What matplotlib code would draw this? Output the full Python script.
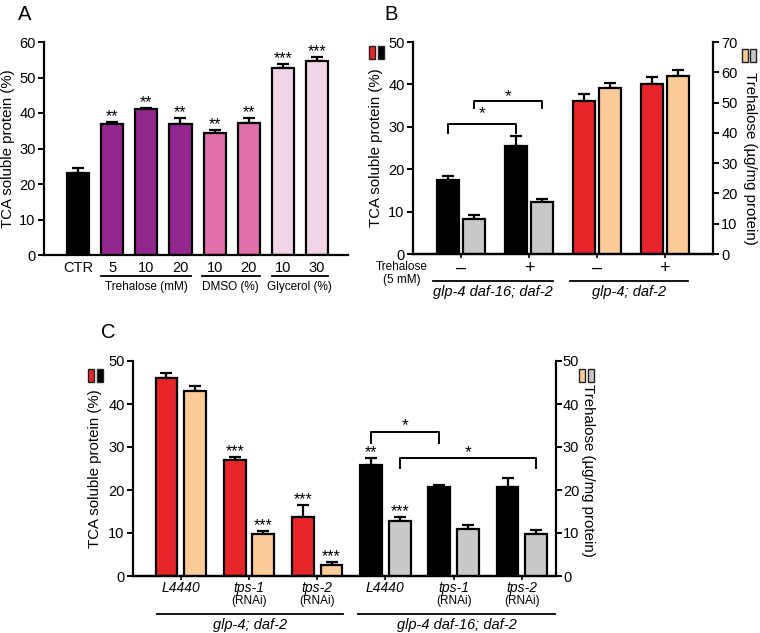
import numpy as np
import matplotlib
matplotlib.use('Agg')
import matplotlib.pyplot as plt
from matplotlib.patches import Rectangle

plt.rcParams['font.family'] = ['Liberation Sans', 'DejaVu Sans']
plt.rcParams['axes.linewidth'] = 1.6

# ---- data ----
# Panel A
a_labels = ['CTR', '5', '10', '20', '10', '20', '10', '30']
a_vals = [23.0, 37.0, 41.0, 37.0, 34.3, 37.3, 52.6, 54.6]
a_err = [1.5, 0.6, 0.5, 1.7, 0.9, 1.4, 1.2, 1.2]
a_stars = ['', '**', '**', '**', '**', '**', '***', '***']
a_colors = ['#000000', '#93278F', '#93278F', '#93278F', '#DF70A9', '#DF70A9', '#F2D4E7', '#F2D4E7']
a_groups = ['Trehalose (mM)', 'DMSO (%)', 'Glycerol (%)']

# Panel B
b_ticks = ['\u2013', '+', '\u2013', '+']
b_tca = [17.5, 25.5, 36.0, 40.2]
b_tca_err = [1.0, 2.4, 1.8, 1.6]
b_tre = [11.7, 17.2, 54.9, 58.8]
b_tre_err = [1.2, 0.8, 1.5, 1.8]
b_tca_colors = ['#000000', '#000000', '#E8252A', '#E8252A']
b_tre_colors = ['#C8C8C8', '#C8C8C8', '#FCCB98', '#FCCB98']
b_groups = ['glp-4 daf-16; daf-2', 'glp-4; daf-2']

# Panel C
c_ticks = ['L4440', 'tps-1', 'tps-2', 'L4440', 'tps-1', 'tps-2']
c_sub = ['', '(RNAi)', '(RNAi)', '', '(RNAi)', '(RNAi)']
c_tca = [46.0, 27.0, 13.7, 25.8, 20.6, 20.6]
c_tca_err = [1.3, 0.7, 2.8, 1.7, 0.6, 2.1]
c_tre = [43.0, 9.7, 2.5, 12.8, 10.9, 9.7]
c_tre_err = [1.2, 0.7, 0.7, 1.0, 0.9, 0.9]
c_tca_stars = ['', '***', '***', '**', '', '']
c_tre_stars = ['', '***', '***', '***', '', '']
c_tca_colors = ['#E8252A'] * 3 + ['#000000'] * 3
c_tre_colors = ['#FCCB98'] * 3 + ['#C8C8C8'] * 3
c_groups = ['glp-4; daf-2', 'glp-4 daf-16; daf-2']

W, H = 760, 633
STAR = 11.5
fig = plt.figure(figsize=(7.6, 6.33), dpi=100)


def px_axes(l, t, r, b):
    return fig.add_axes([l / W, 1 - b / H, (r - l) / W, (b - t) / H])


def px_rect(l, t, w, h, color):
    fig.patches.append(Rectangle((l / W, 1 - (t + h) / H), w / W, h / H,
                                 transform=fig.transFigure, facecolor=color,
                                 edgecolor='#222222', linewidth=1.0))


def style(ax):
    ax.spines['top'].set_visible(False)
    ax.spines['right'].set_visible(False)
    ax.tick_params(axis='y', direction='out', length=4, width=1.4, labelsize=10.5, pad=2)


def ylab(ax, text, x, y=0.5, rot=90):
    ax.set_ylabel(text, fontsize=10.8, rotation=rot, va='center', ha='center')
    ax.yaxis.set_label_coords(x, y)


def bars(ax, x, vals, err, colors, width):
    ax.bar(x, vals, width=width, color=colors, edgecolor='black', linewidth=1.6, zorder=2)
    ax.errorbar(x, vals, yerr=[np.zeros(len(vals)), err], fmt='none', ecolor='black',
                elinewidth=1.6, capsize=4, capthick=1.6, zorder=1)


def stars(ax, xs, vals, errs, labels):
    for x, v, e, s in zip(xs, vals, errs, labels):
        if s:
            ax.annotate(s, (x, v + e), xytext=(0, 0.5), textcoords='offset points',
                        ha='center', va='baseline', fontsize=STAR)


def underline(ax, x0, x1, y, label, ylab_, italic=False, fs=8.5):
    tr = ax.get_xaxis_transform()
    ax.plot([x0, x1], [y, y], color='black', lw=1.3, transform=tr, clip_on=False)
    ax.text((x0 + x1) / 2, ylab_, label, transform=tr, ha='center', va='center',
            fontsize=fs, style='italic' if italic else 'normal')


def bracket(ax, x0, x1, ytop, ylow, ystar):
    ax.plot([x0, x0, x1, x1], [ylow, ytop, ytop, ylow], color='black', lw=1.4)
    ax.annotate('*', ((x0 + x1) / 2, ystar), xytext=(0, -7), textcoords='offset points',
                ha='center', va='baseline', fontsize=12.5)


# ---- Panel A ----
axA = px_axes(44, 42, 348, 255)
style(axA)
xa = np.arange(len(a_vals))
bars(axA, xa, a_vals, a_err, a_colors, 0.65)
stars(axA, xa, a_vals, a_err, a_stars)
axA.set_xlim(-1.0, 7.91)
axA.set_ylim(0, 60)
axA.set_yticks(np.arange(0, 61, 10))
axA.set_xticks(xa)
axA.set_xticklabels(a_labels, fontsize=10.5)
axA.tick_params(axis='x', length=0, pad=4)
ylab(axA, 'TCA soluble protein (%)', -0.12)
underline(axA, 0.68, 3.32, -0.098, a_groups[0], -0.152)
underline(axA, 3.62, 5.32, -0.098, a_groups[1], -0.152)
underline(axA, 5.68, 7.32, -0.098, a_groups[2], -0.152)
fig.text(25 / W, 1 - 14 / H, 'A', fontsize=14.5, ha='center', va='center')

# ---- Panel B ----
axB = px_axes(413, 42, 713, 254)
style(axB)
xb = np.arange(len(b_tca))
off, wid = 0.19, 0.32
bars(axB, xb - off, b_tca, b_tca_err, b_tca_colors, wid)
axB.set_xlim(-0.71, 3.71)
axB.set_ylim(0, 50)
axB.set_yticks(np.arange(0, 51, 10))
axB.set_xticks(xb)
axB.set_xticklabels(b_ticks, fontsize=13)
axB.tick_params(axis='x', direction='out', length=3, width=1.2, pad=1)
ylab(axB, 'TCA soluble protein (%)', -0.123)
axB2 = axB.twinx()
axB2.spines['top'].set_visible(False)
axB2.spines['left'].set_visible(False)
bars(axB2, xb + off, b_tre, b_tre_err, b_tre_colors, wid)
axB2.set_ylim(0, 70)
axB2.set_yticks(np.arange(0, 71, 10))
axB2.tick_params(axis='y', direction='out', length=4, width=1.4, labelsize=10.5, pad=2)
ylab(axB2, 'Trehalose (\u00b5g/mg protein)', 1.123, 0.45, rot=-90)
bracket(axB, -off, 1 - off, 30.7, 28.6, 34.4)
bracket(axB, off, 1 + off, 36.0, 34.4, 38.4)
axB.text(-0.87, -0.093, 'Trehalose\n(5 mM)', transform=axB.get_xaxis_transform(),
         ha='center', va='center', fontsize=8.5, linespacing=1.1)
underline(axB, -0.41, 1.35, -0.126, b_groups[0], -0.177, italic=True, fs=10.5)
underline(axB, 1.60, 3.34, -0.126, b_groups[1], -0.177, italic=True, fs=10.5)
fig.text(391 / W, 1 - 14 / H, 'B', fontsize=14.5, ha='center', va='center')
px_rect(369, 46, 6, 13, '#E8252A')
px_rect(378, 46, 6, 13, '#000000')
px_rect(742, 49, 6, 13, '#FCCB98')
px_rect(750, 49, 6, 13, '#C8C8C8')

# ---- Panel C ----
axC = px_axes(133, 361, 556, 576)
style(axC)
xc = np.arange(len(c_tca))
off, wid = 0.21, 0.32
bars(axC, xc - off, c_tca, c_tca_err, c_tca_colors, wid)
axC2 = axC.twinx()
axC2.spines['top'].set_visible(False)
axC2.spines['left'].set_visible(False)
bars(axC2, xc + off, c_tre, c_tre_err, c_tre_colors, wid)
stars(axC, xc - off, c_tca, c_tca_err, c_tca_stars)
stars(axC2, xc + off, c_tre, c_tre_err, c_tre_stars)
axC.set_xlim(-0.70, 5.50)
axC.set_ylim(0, 50)
axC2.set_ylim(0, 50)
axC.set_yticks(np.arange(0, 51, 10))
axC2.set_yticks(np.arange(0, 51, 10))
axC2.tick_params(axis='y', direction='out', length=4, width=1.4, labelsize=10.5, pad=1)
axC.set_xticks(xc)
axC.set_xticklabels([])
axC.tick_params(axis='x', direction='out', length=3, width=1.2)
trc = axC.get_xaxis_transform()
for x, t, s in zip(xc, c_ticks, c_sub):
    axC.text(x, -0.058, t, transform=trc, ha='center', va='center', fontsize=10, style='italic')
    if s:
        axC.text(x, -0.117, s, transform=trc, ha='center', va='center', fontsize=8.5)
ylab(axC, 'TCA soluble protein (%)', -0.09)
ylab(axC2, 'Trehalose (\u00b5g/mg protein)', 1.075, 0.49, rot=-90)
bracket(axC, 3 - off, 4 - off, 33.5, 30.9, 36.3)
bracket(axC, 3 + off, 5 + off, 27.4, 25.1, 30.0)
underline(axC, -0.35, 2.38, -0.177, c_groups[0], -0.23, italic=True, fs=10.5)
underline(axC, 2.60, 5.48, -0.177, c_groups[1], -0.23, italic=True, fs=10.5)
fig.text(108 / W, 1 - 333 / H, 'C', fontsize=14.5, ha='center', va='center')
px_rect(88, 369, 6, 13, '#E8252A')
px_rect(97, 369, 6, 13, '#000000')
px_rect(579, 369, 6, 13, '#FCCB98')
px_rect(588, 369, 6, 13, '#C8C8C8')

fig.savefig('out.png', dpi=100)
